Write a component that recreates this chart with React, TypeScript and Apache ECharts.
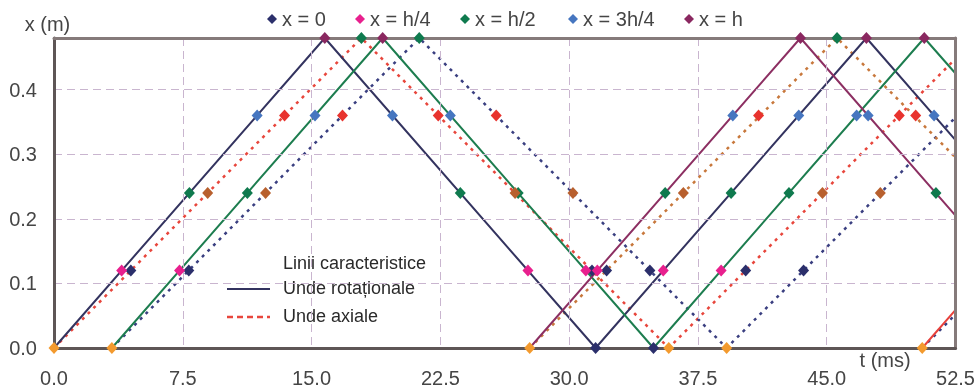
import React, { useEffect, useRef } from "react";
import * as echarts from "echarts";

// ---------- data (t in ms, x in m) ----------
const xTicks = [0, 7.5, 15, 22.5, 30, 37.5, 45, 52.5];
const yTicks = [0, 0.1, 0.2, 0.3, 0.4];

// characteristic lines – rotational waves (solid)
const rotNavy = [[0, 0], [15.77, 0.48], [31.54, 0], [47.31, 0.48], [52.5, 0.322]];
const rotGreen = [[3.37, 0], [19.14, 0.48], [34.91, 0], [50.68, 0.48], [52.5, 0.425]];
const rotMaroon = [[27.7, 0], [43.47, 0.48], [52.5, 0.205]];
const rotRed = [[50.56, 0], [52.5, 0.059]];

// characteristic lines – axial waves (dotted)
const axRed = [[0, 0], [17.9, 0.48], [35.8, 0], [52.5, 0.448]];
const axNavy = [[3.37, 0], [21.27, 0.48], [39.17, 0], [52.5, 0.357]];
const axOrange = [[27.7, 0], [45.6, 0.48], [52.5, 0.295]];
const axNavy2 = [[50.56, 0], [52.5, 0.052]];

// markers
const mkNavy = [
  [31.54, 0], [34.91, 0],
  [4.475, 0.12], [7.85, 0.12], [31.33, 0.12], [32.18, 0.12], [34.7, 0.12], [40.28, 0.12], [43.65, 0.12],
];
const mkPink = [[3.94, 0.12], [7.31, 0.12], [27.6, 0.12], [30.97, 0.12], [31.64, 0.12], [35.48, 0.12], [38.85, 0.12]];
const mkGreen = [
  [7.885, 0.24], [11.26, 0.24], [23.66, 0.24], [27.03, 0.24], [35.59, 0.24], [39.43, 0.24], [42.8, 0.24], [51.36, 0.24],
  [17.9, 0.48], [21.27, 0.48], [45.6, 0.48],
];
const mkBlue = [[11.83, 0.36], [15.2, 0.36], [19.71, 0.36], [23.08, 0.36], [39.53, 0.36], [43.37, 0.36], [46.74, 0.36], [47.41, 0.36], [51.25, 0.36]];
const mkMaroon = [[15.77, 0.48], [19.14, 0.48], [43.47, 0.48], [47.31, 0.48], [50.68, 0.48]];
const mkOrange = [[0, 0], [3.37, 0], [27.7, 0], [35.8, 0], [39.17, 0], [50.56, 0]];
const mkBrown = [[8.95, 0.24], [12.32, 0.24], [26.85, 0.24], [30.22, 0.24], [36.65, 0.24], [44.75, 0.24], [48.12, 0.24]];
const mkRed = [[13.425, 0.36], [16.8, 0.36], [22.375, 0.36], [25.75, 0.36], [41.03, 0.36], [49.225, 0.36], [50.18, 0.36]];

const legendNames = ["x = 0", "x = h/4", "x = h/2", "x = 3h/4", "x = h"];
const legendLeft = [267, 355, 460, 568, 684];

const FONT = "'Liberation Sans', Arial, Helvetica, sans-serif";
const TXT = "#454545";

export default function App() {
  const ref = useRef<HTMLDivElement>(null);
  useEffect(() => {
    if (!ref.current) return;
    const chart = echarts.init(ref.current, null, { renderer: "svg" });

    const solid = (data: number[][], color: string) => ({
      type: "line", data, showSymbol: false, silent: true, z: 2,
      lineStyle: { color, width: 2 },
    });
    const dotted = (data: number[][], color: string) => ({
      type: "line", data, showSymbol: false, silent: true, z: 2,
      lineStyle: { color, width: 2.5, type: [3, 5] },
    });
    const marks = (name: string, data: number[][], color: string) => ({
      type: "scatter", name, data, symbol: "diamond", symbolSize: [11, 12], z: 5,
      itemStyle: { color, opacity: 1 }, clip: false,
    });
    const split = { show: true, lineStyle: { color: "#c9b5cf", type: [8, 5], width: 1 } };
    const frame = { show: true, onZero: false, lineStyle: { color: "#857a7a", width: 3 } };

    chart.setOption({
      animation: false,
      textStyle: { fontFamily: FONT },
      grid: { left: 54, right: 22, top: 38, bottom: 41 },
      legend: legendNames.map((n, i) => ({
        data: [n], left: legendLeft[i], top: 9, padding: 0,
        icon: "diamond", itemWidth: 10, itemHeight: 10, selectedMode: false,
        textStyle: { fontSize: 20, color: TXT, fontFamily: FONT },
      })),
      xAxis: [
        {
          type: "value", min: 0, max: 52.5, interval: 7.5,
          name: "t (ms)", nameLocation: "end", nameGap: -96,
          nameTextStyle: { fontSize: 20, color: TXT, align: "left", verticalAlign: "top", padding: [2, 0, 0, 0] },
          axisLine: { onZero: false, lineStyle: { color: "#5e5656", width: 3 } },
          axisTick: { show: false },
          axisLabel: {
            fontSize: 20, color: TXT, margin: 20,
            formatter: (v: number) => (xTicks.includes(v) ? v.toFixed(1) : ""),
          },
          splitLine: split,
          z: 3,
        },
        {
          type: "value", position: "top", min: 0, max: 52.5, interval: 7.5,
          axisLine: frame, axisTick: { show: false }, axisLabel: { show: false },
          splitLine: { show: false }, z: 3,
        },
      ],
      yAxis: [
        {
          type: "value", min: 0, max: 0.48, interval: 0.1,
          name: "x (m)", nameLocation: "end", nameGap: 4,
          nameTextStyle: { fontSize: 20, color: TXT, padding: [0, 13, 0, 0] },
          axisLine: { show: true, onZero: false, lineStyle: { color: "#5e5656", width: 3 } },
          axisTick: { show: false },
          axisLabel: {
            fontSize: 20, color: TXT, margin: 17,
            formatter: (v: number) => (yTicks.some((t) => Math.abs(t - v) < 1e-6) ? v.toFixed(1) : ""),
          },
          splitLine: split,
          z: 3,
        },
        {
          type: "value", position: "right", min: 0, max: 0.48, interval: 0.1,
          axisLine: frame, axisTick: { show: false }, axisLabel: { show: false },
          splitLine: { show: false }, z: 3,
        },
      ],
      graphic: [
        { type: "text", left: 283, top: 254, style: { text: "Linii caracteristice", fontSize: 18, fill: "#2a2a2a", fontFamily: FONT } },
        { type: "line", shape: { x1: 227, y1: 289, x2: 270, y2: 289 }, style: { stroke: "#33335f", lineWidth: 2 } },
        { type: "text", left: 283, top: 279, style: { text: "Unde rotaționale", fontSize: 18, fill: "#2a2a2a", fontFamily: FONT } },
        { type: "line", shape: { x1: 227, y1: 317, x2: 270, y2: 317 }, style: { stroke: "#e8463c", lineWidth: 2.5, lineDash: [6, 4] } },
        { type: "text", left: 283, top: 307, style: { text: "Unde axiale", fontSize: 18, fill: "#2a2a2a", fontFamily: FONT } },
      ],
      series: [
        dotted(axRed, "#e8463c"),
        dotted(axNavy, "#3a3f80"),
        dotted(axOrange, "#c8783c"),
        dotted(axNavy2, "#3a3f80"),
        solid(rotNavy, "#33335f"),
        solid(rotGreen, "#1d7d4f"),
        solid(rotMaroon, "#8c2f62"),
        solid(rotRed, "#e8403a"),
        marks("x = 0", mkNavy, "#2b2f6b"),
        marks("x = h/4", mkPink, "#e8208e"),
        marks("x = h/2", mkGreen, "#0f7a4e"),
        marks("x = 3h/4", mkBlue, "#4676c0"),
        marks("x = h", mkMaroon, "#8a2860"),
        marks("orange", mkOrange, "#f39a2e"),
        marks("brown", mkBrown, "#b8602e"),
        marks("red", mkRed, "#e8332e"),
      ],
    });
    return () => chart.dispose();
  }, []);
  return <div ref={ref} style={{ position: "fixed", left: 0, top: 0, width: 978, height: 389 }} />;
}
